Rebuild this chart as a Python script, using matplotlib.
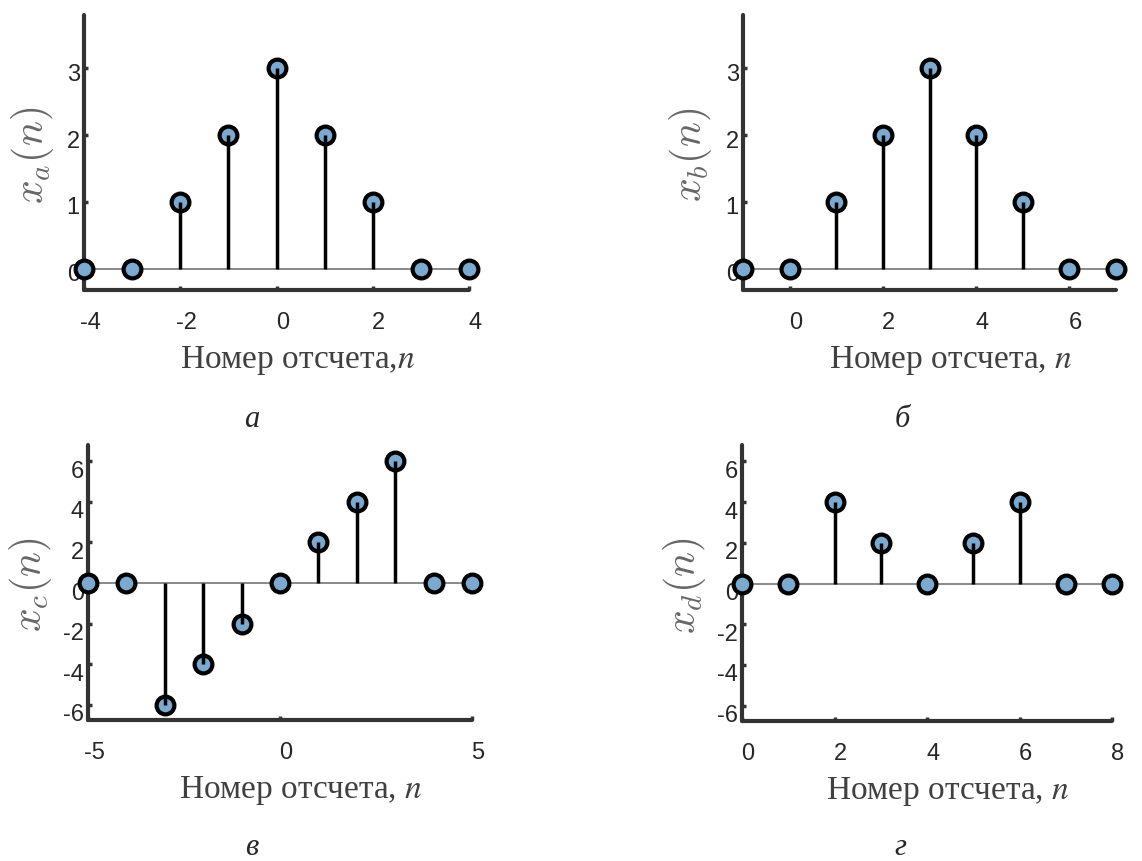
import matplotlib
matplotlib.use("Agg")
import matplotlib.pyplot as plt
import matplotlib.transforms as mtransforms
import numpy as np

plt.rcParams["axes.unicode_minus"] = False

# ---- data ----
n_a = [-4, -3, -2, -1, 0, 1, 2, 3, 4]
x_a = [0, 0, 1, 2, 3, 2, 1, 0, 0]
n_b = [-1, 0, 1, 2, 3, 4, 5, 6, 7]
x_b = [0, 0, 1, 2, 3, 2, 1, 0, 0]
n_c = [-5, -4, -3, -2, -1, 0, 1, 2, 3, 4, 5]
x_c = [0, 0, -6, -4, -2, 0, 2, 4, 6, 0, 0]
n_d = [0, 1, 2, 3, 4, 5, 6, 7, 8]
x_d = [0, 0, 4, 2, 0, 2, 4, 0, 0]

xticks_a = [-4, -2, 0, 2, 4]
xticks_b = [0, 2, 4, 6]
xticks_c = [-5, 0, 5]
xticks_d = [0, 2, 4, 6, 8]
yticks_ab = [0, 1, 2, 3]
yticks_cd = [-6, -4, -2, 0, 2, 4, 6]

ylabels = [r"$x_a(n)$", r"$x_b(n)$", r"$x_c(n)$", r"$x_d(n)$"]
xlabels = ["Номер отсчета,$n$", "Номер отсчета, $n$",
           "Номер отсчета, $n$", "Номер отсчета, $n$"]
captions = ["а", "б", "в", "г"]

W, H = 1142, 861
fig = plt.figure(figsize=(W / 100, H / 100), dpi=100)

def px_axes(l, r, t, b):
    return fig.add_axes([l / W, 1 - b / H, (r - l) / W, (b - t) / H])

panels = [
    dict(rect=(84, 469, 15, 290), n=n_a, x=x_a, xlim=(-4, 4), ylim=(-0.32, 3.8),
         xt=xticks_a, yt=yticks_ab, cap=(252, 427), ylx=-52, ydy=4),
    dict(rect=(743, 1116, 15, 290), n=n_b, x=x_b, xlim=(-1, 7), ylim=(-0.32, 3.8),
         xt=xticks_b, yt=yticks_ab, cap=(902, 427), ylx=-52, ydy=4),
    dict(rect=(88, 472, 445, 720), n=n_c, x=x_c, xlim=(-5, 5), ylim=(-6.75, 6.8),
         xt=xticks_c, yt=yticks_cd, cap=(252, 855), ylx=-58, ydy=8),
    dict(rect=(742, 1112, 445, 721), n=n_d, x=x_d, xlim=(0, 8), ylim=(-6.75, 6.8),
         xt=xticks_d, yt=yticks_cd, cap=(900, 855), ylx=-58, ydy=8),
]

face = "#7BA9CF"
spine_c = "#333333"

for i, p in enumerate(panels):
    ax = px_axes(*p["rect"])
    l, r, t, b = p["rect"]
    aw, ah = r - l, b - t
    ml, sl, bl = ax.stem(p["n"], p["x"], linefmt="k-", markerfmt="o", basefmt="-")
    ml.set_markerfacecolor(face)
    ml.set_markeredgecolor("black")
    ml.set_markersize(12.8)
    ml.set_markeredgewidth(3)
    ml.set_clip_on(False)
    ml.set_zorder(4)
    sl.set_linewidth(2.5)
    sl.set_color("black")
    sl.set_zorder(5)
    sl.set_clip_on(False)
    bl.set_color("#808080")
    bl.set_linewidth(1.3)
    bl.set_zorder(3)
    bl.set_clip_on(False)
    ax.set_xlim(*p["xlim"])
    ax.set_ylim(*p["ylim"])
    ax.set_xticks(p["xt"])
    ax.set_yticks(p["yt"])
    for s in ["top", "right"]:
        ax.spines[s].set_visible(False)
    for s in ["left", "bottom"]:
        ax.spines[s].set_linewidth(3)
        ax.spines[s].set_color(spine_c)
        ax.spines[s].set_capstyle("round")
    ax.tick_params(axis="both", direction="in", length=3, width=2.5, color=spine_c,
                   labelsize=17, labelcolor="#262626")
    ax.tick_params(axis="x", pad=16)
    ax.tick_params(axis="y", pad=3)
    xoff = mtransforms.ScaledTranslation(6 / 100, 0, fig.dpi_scale_trans)
    yoff = mtransforms.ScaledTranslation(0, -p["ydy"] / 100, fig.dpi_scale_trans)
    for lab in ax.get_xticklabels():
        lab.set_fontfamily("Liberation Sans")
        lab.set_transform(lab.get_transform() + xoff)
    for lab in ax.get_yticklabels():
        lab.set_fontfamily("Liberation Sans")
        lab.set_transform(lab.get_transform() + yoff)

    ax.set_ylabel(ylabels[i], fontsize=30, color="#666666", math_fontfamily="cm")
    ax.yaxis.label.set_verticalalignment("center")
    ax.yaxis.set_label_coords(p["ylx"] / aw, 0.49)

    ax.set_xlabel(xlabels[i], fontsize=24, color="#404040", family="Liberation Serif",
                  math_fontfamily="stix")
    ax.xaxis.label.set_verticalalignment("baseline")
    ax.xaxis.set_label_coords(0.5 + 21 / aw, -78 / ah)
    ax.patch.set_alpha(0)

    cx, cy = p["cap"]
    fig.text(cx / W, 1 - cy / H, captions[i], fontsize=22, style="italic",
             family="Liberation Serif", color="#262626", ha="center", va="baseline")

fig.savefig("out.png", dpi=100)
